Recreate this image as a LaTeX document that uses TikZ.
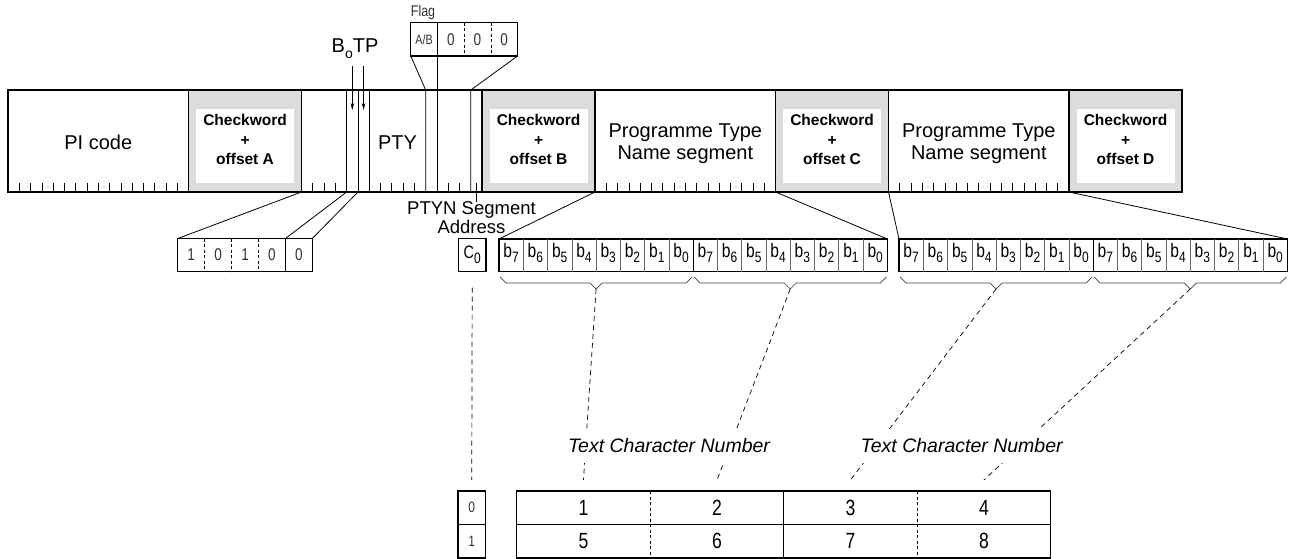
\documentclass[tikz,border=0pt]{standalone}
\usepackage{fontspec}
\setmainfont{Liberation Sans}
\newfontfamily\slimfont[FakeStretch=0.8]{Liberation Sans}
\usetikzlibrary{arrows.meta}
\definecolor{cwgray}{RGB}{220,220,220}
\newcommand{\bitw}{11.28846}
\newcommand{\subs}[1]{\raisebox{-5pt}{\fontsize{15}{15}\selectfont #1}}
\tikzstyle{block} = [
  draw,
  rectangle,
  line width=1.3pt,
  inner sep=0pt,
  outer sep=0pt,
  minimum height=102,
]
\tikzstyle{checkword} = [
  block,
  fill=cwgray,
]
\tikzstyle{cwbox} = [
  fill=white,
  inner sep=0pt,
  minimum width=98,
  minimum height=74,
]
\tikzstyle{cwtext} = [
  align=center,
  inner sep=0pt,
  font=\bfseries\fontsize{15.5}{19.2}\selectfont,
]
\tikzstyle{blocktext} = [
  align=center,
  inner sep=0pt,
  font=\fontsize{20}{22.3}\selectfont,
]
\tikzstyle{cell} = [
  draw,
  rectangle,
  line width=1.2pt,
  inner sep=0pt,
  outer sep=0pt,
]
\tikzstyle{small} = [
  inner sep=0pt,
  text=black!80,
  font=\slimfont\fontsize{17}{17}\selectfont,
]
\tikzstyle{bitlabel} = [
  anchor=base,
  inner sep=0pt,
  font=\slimfont\fontsize{19.5}{19.5}\selectfont,
]
\tikzstyle{number} = [
  inner sep=0pt,
  font=\slimfont\fontsize{22}{22}\selectfont,
]
\tikzstyle{tcn} = [
  fill=white,
  inner xsep=3pt,
  inner ysep=10pt,
  font=\itshape\fontsize{19.5}{19.5}\selectfont,
]
\tikzstyle{tick} = [
  line width=0.7pt,
]
\tikzstyle{bitline} = [
  line width=0.8pt,
]
\tikzstyle{divider} = [
  line width=0.6pt,
  black!60,
]
\tikzstyle{dots} = [
  line width=0.6pt,
  dash pattern=on 3pt off 2.5pt,
]
\tikzstyle{guide} = [
  line width=0.7pt,
  dash pattern=on 5pt off 4pt,
]
\tikzstyle{bracket} = [
  line width=0.7pt,
  black!75,
]

\begin{document}
\begin{tikzpicture}[
    x=1pt,
    y=-1pt,
    >={Stealth[length=7pt,width=3.6pt]},
  ]
  \useasboundingbox (0,0) rectangle (1292,559);
  % the four blocks
  \foreach \n/\ltr in {0/A,1/B,2/C,3/D}{
    \node[
      block,
      minimum width=16*\bitw,
    ](data\n) at ({8+(26*\n+8)*\bitw},141){};
    \node[
      checkword,
      minimum width=10*\bitw,
    ](cw\n) at ({8+(26*\n+21)*\bitw},141){};
    \node[cwbox](cwbox\n) at ({8+(26*\n+21)*\bitw},146){};
    \node[cwtext](cwtext\n) at ([yshift=6.5pt]cwbox\n.center){Checkword\\+\\offset \ltr};
  }
  \node[blocktext](picode) at ([yshift=-1.6pt]data0.center){PI code};
  \node[blocktext](pty) at ({8+34.5*\bitw},142.6){PTY};
  \node[blocktext](ptna) at ([yshift=-3pt]data2.center){Programme Type\\Name segment};
  \node[blocktext](ptnb) at ([yshift=-3pt]data3.center){Programme Type\\Name segment};
  % bit ticks
  \foreach \n in {0,2,3}{
    \foreach \k in {1,...,15}{
      \draw[tick] ({8+(26*\n+\k)*\bitw},183) -- ++(0,9);
    }
  }
  \foreach \k in {1,2,3,7,8,9,10,13,14}{
    \draw[tick] ({8+(26+\k)*\bitw},183) -- ++(0,9);
  }
  \foreach \k in {4,5,6}{
    \draw[bitline] ({8+(26+\k)*\bitw},90) -- ++(0,102);
  }
  % flag
  \node[
    cell,
    minimum width=106.8,
    minimum height=33.3,
  ](flag) at (464.16,39.35){};
  \node[
    small,
    anchor=base west,
    font=\slimfont\fontsize{15.5}{15.5}\selectfont,
  ](flaglabel) at ([yshift=6pt]flag.north west){Flag};
  \node[small, font=\slimfont\fontsize{13.5}{13.5}\selectfont](ab) at (424.1,39.35){A/B};
  \foreach \i in {0,1,2}{
    \node[small](flagbit\i) at ({450.8+26.7*\i},39.35){0};
  }
  \draw[dots] (464.16,22.7) -- ++(0,33.3);
  \draw[dots] (490.86,22.7) -- ++(0,33.3);
  \coordinate (abl) at ({8+37*\bitw},90);
  \coordinate (abr) at ({8+38*\bitw},90);
  \coordinate (seg) at ({8+41*\bitw},90);
  \draw[bitline] (flag.south west) -- (abl) -- ++(0,102);
  \draw[bitline] (abr |- flag.north) -- (abr) -- ++(0,102);
  \draw[bitline] (flag.south east) -- (seg) -- ++(0,102);
  % B0 and TP
  \node[
    blocktext,
    anchor=base west,
  ](botp) at (331.5,52.5){B\raisebox{-6pt}{\fontsize{14}{14}\selectfont o}TP};
  \coordinate (boin) at ({8+30.5*\bitw},66);
  \coordinate (boend) at ({8+30.5*\bitw},110);
  \coordinate (tpin) at ({8+31.5*\bitw},66);
  \coordinate (tpend) at ({8+31.5*\bitw},110);
  \path [->, bitline] (boin) edge (boend);
  \path [->, bitline] (tpin) edge (tpend);
  % group type code
  \node[
    cell,
    minimum width=134.5,
    minimum height=33,
  ](grp) at (245.05,255){};
  \foreach \v [count=\i from 0] in {1,0,1,0,0}{
    \node[small](grp\i) at ({177.8+(\i+0.5)*26.9},255){\v};
  }
  \foreach \i in {1,2,3}{
    \draw[dots] ({177.8+\i*26.9},238.5) -- ++(0,33);
  }
  \draw[bitline] (285.4,238.5) -- ++(0,33);
  \coordinate (b0bot) at ({8+30*\bitw},192);
  \coordinate (tpbot) at ({8+31*\bitw},192);
  \draw[bitline] (data1.south west) -- (grp.north west);
  \draw[bitline] (b0bot) -- ([xshift=107.6pt]grp.north west);
  \draw[bitline] (tpbot) -- (grp.north east);
  % segment address
  \node[
    cell,
    minimum width=27.5,
    minimum height=33,
    font=\slimfont\fontsize{18}{18}\selectfont,
  ](czero) at (472.2,255){C\subs{0}};
  \node[
    blocktext,
    font=\fontsize{18.5}{18.3}\selectfont,
  ](ptyn) at (471.5,217.5){PTYN Segment\\Address};
  \coordinate (cbit) at ({8+41.5*\bitw},183);
  \draw[bitline] (cbit) -- (cbit |- ptyn.north);
  % text characters
  \foreach \g/\d in {1/499,2/899}{
    \node[
      cell,
      minimum width=388.32,
      minimum height=32.5,
    ](seg\g) at ({\d+194.16},255.25){};
    \foreach \c in {1,...,7,9,10,...,15}{
      \draw[divider] ({\d+\c*24.27},239) -- ++(0,32.5);
    }
    \draw[cell] ({\d+8*24.27},239) -- ++(0,32.5);
    \foreach \b [count=\c from 0] in {7,6,5,4,3,2,1,0,7,6,5,4,3,2,1,0}{
      \node[bitlabel] at ({\d+(\c+0.5)*24.27},257.5){b\subs{\b}};
    }
  }
  \draw[bitline] (data2.south west) -- (seg1.north west);
  \draw[bitline] (data2.south east) -- (seg1.north east);
  \draw[bitline] (data3.south west) -- (seg2.north west);
  \draw[bitline] (data3.south east) -- (seg2.north east);
  % brackets under the bytes
  \foreach \x [count=\i] in {499,693.16,899,1093.16}{
    \draw[bracket] ({\x+1},277) -- ++(6,6) -- ({\x+91.08},283)
      -- ++(6,6) -- ++(6,-6) -- ({\x+187.16},283) -- ++(6,-6);
    \coordinate (tip\i) at ({\x+97.08},289);
  }
  % character table
  \node[
    cell,
    minimum width=534,
    minimum height=67,
  ](chars) at (783.7,524.5){};
  \draw[line width=1.5pt] (chars.west) -- (chars.east);
  \draw[dots] (650.2,491) -- ++(0,67);
  \draw[dots] (917.2,491) -- ++(0,67);
  \draw[bitline] (783.7,491) -- ++(0,67);
  \foreach \v [count=\i from 0] in {1,2,3,4}{
    \node[number](num\v) at ({583.45+\i*133.5},507.75){\v};
    \coordinate (col\v) at ({583.45+\i*133.5},480);
  }
  \foreach \v [count=\i from 0] in {5,6,7,8}{
    \node[number](num\v) at ({583.45+\i*133.5},541.25){\v};
  }
  \node[
    cell,
    minimum width=27.5,
    minimum height=67,
  ](sel) at (471.75,524.5){};
  \draw[line width=1.5pt] (sel.west) -- (sel.east);
  \node[small, font=\slimfont\fontsize{15}{15}\selectfont](selzero) at (471.75,507.75){0};
  \node[small, font=\slimfont\fontsize{15}{15}\selectfont](selone) at (471.75,541.25){1};
  \coordinate (seltop) at (471.75,480);
  % guides
  \path [guide] ([yshift=-16pt]czero.south) edge (seltop);
  \path [guide] (tip1) edge (col1);
  \path [guide] (tip2) edge (col2);
  \path [guide] (tip3) edge (col3);
  \path [guide] (tip4) edge (col4);
  \node[tcn](tcna) at (669,445.7){Text Character Number};
  \node[tcn](tcnb) at (961.7,445.7){Text Character Number};
\end{tikzpicture}
\end{document}
